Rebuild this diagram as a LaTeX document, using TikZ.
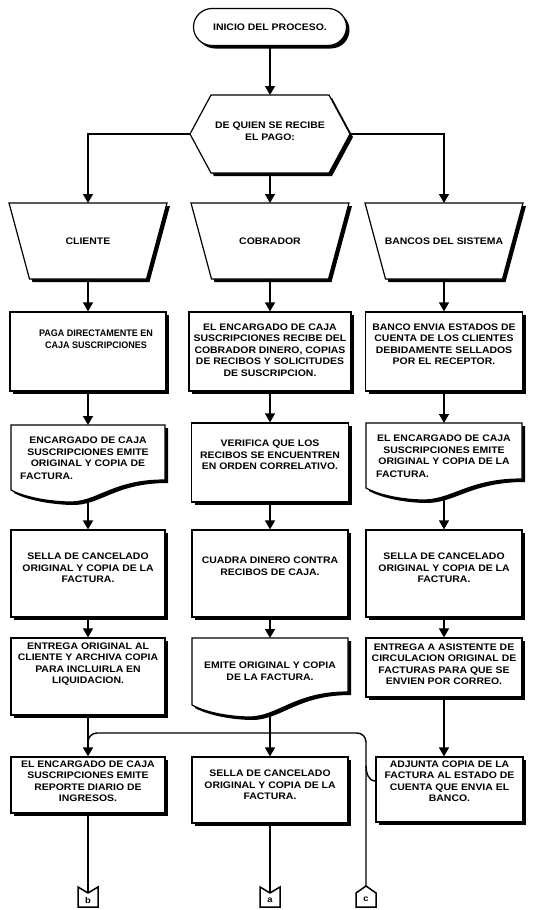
\documentclass[tikz,border=0pt]{standalone}
\usepackage{fontspec}
\setmainfont{Liberation Sans}[FakeStretch=1.1]
\newfontfamily\narrowsans{Liberation Sans Bold}[FakeStretch=0.95]
\usetikzlibrary{shapes.misc,shadows,arrows.meta}
\newcommand\lbl{\fontsize{9.5}{11.5}\selectfont\bfseries}
\newcommand\lblnarrow{\narrowsans\fontsize{9.5}{11.5}\selectfont}
\begin{document}
\begin{tikzpicture}[x=1pt,y=-1pt,
  hardshadow/.style={drop shadow={shadow xshift=3pt,shadow yshift=-3pt,fill=black,opacity=1}},
  shapebox/.style={draw,line width=1.2pt,fill=white,hardshadow},
  proc/.style={shapebox,rectangle,inner sep=0pt},
  txt/.style={align=center,font=\lbl,inner sep=0pt},
  flow/.style={line width=1.4pt,-{Triangle[width=10pt,length=9pt]}},
  link/.style={line width=1.4pt},
  pagelink/.style={draw,line width=1.5pt,fill=white},
  letter/.style={font=\fontsize{8.5}{8.5}\selectfont\bfseries,inner sep=0pt},
]
\useasboundingbox (0,0) rectangle (535,910);

% start terminal
\node[shapebox,rounded rectangle,minimum width=153pt,minimum height=37pt,txt] (start) at (270,27) {INICIO DEL PROCESO.};

% decision hexagon
\path[shapebox] (211,95) -- (329,95) -- (350,134) -- (329,173) -- (211,173) -- (190,134) -- cycle;
\coordinate (hexT) at (270,95);
\coordinate (hexB) at (270,173);
\coordinate (hexL) at (190,134);
\coordinate (hexR) at (350,134);
\node[txt] (hex) at (270,131) {DE QUIEN SE RECIBE\\EL PAGO:};

% manual operations (wide top, narrow bottom)
\foreach \n/\x in {tL/88,tM/270,tR/444}{
  \path[shapebox] (\x-79,203) -- (\x+79,203) -- (\x+58.5,279) -- (\x-58.5,279) -- cycle;
  \coordinate (\n-in) at (\x,203);
  \coordinate (\n-out) at (\x,279);
}
\node[txt] (tLt) at (88,241) {CLIENTE};
\node[txt] (tMt) at (270,241) {COBRADOR};
\node[txt] (tRt) at (444,241) {BANCOS DEL SISTEMA};

\draw[flow] (start.south) -- (hexT);
\draw[flow] (hexL) -| (tL-in);
\draw[flow] (hexR) -| (tR-in);
\draw[flow] (hexB) -- (tM-in);

% row 2
\node[proc,minimum width=156pt,minimum height=79pt] (L2) at (88,351.5) {};
\node[txt,font=\lblnarrow] (L2t) at (96,339) {PAGA DIRECTAMENTE EN\\CAJA SUSCRIPCIONES};
\node[proc,minimum width=162pt,minimum height=79pt] (M2) at (270,351.5) {};
\node[txt] (M2t) at (270,350) {EL ENCARGADO DE CAJA\\SUSCRIPCIONES RECIBE DEL\\COBRADOR DINERO, COPIAS\\DE RECIBOS Y SOLICITUDES\\DE SUSCRIPCION.};
\node[proc,minimum width=157pt,minimum height=79pt] (R2) at (444,351.5) {};
\node[txt] (R2t) at (444,344) {BANCO ENVIA ESTADOS DE\\CUENTA DE LOS CLIENTES\\DEBIDAMENTE SELLADOS\\POR EL RECEPTOR.};

\draw[flow] (tL-out) -- (L2.north);
\draw[flow] (tM-out) -- (M2.north);
\draw[flow] (tR-out) -- (R2.north);

% row 3
\path[shapebox] (11,425) -- (165,425) -- (165,480)
  .. controls (111,480) and (98,503) .. (68,502)
  .. controls (40,501) and (20,495) .. (11,490) -- cycle;
\coordinate (L3in) at (88,425);
\coordinate (L3out) at (88,499);
\node[txt] (L3t) at (88,452) {ENCARGADO DE CAJA\\SUSCRIPCIONES EMITE\\ORIGINAL Y COPIA DE};
\node[txt,anchor=west] (L3u) at (20,476) {FACTURA.};

\node[proc,minimum width=157pt,minimum height=79pt] (M3) at (270,462.5) {};
\node[txt] (M3t) at (270,455) {VERIFICA QUE LOS\\RECIBOS SE ENCUENTREN\\EN ORDEN CORRELATIVO.};

\path[shapebox] (366,423) -- (522,423) -- (522,479)
  .. controls (467,479) and (452,501) .. (421,500)
  .. controls (394,499) and (375,493) .. (366,488) -- cycle;
\coordinate (R3in) at (444,423);
\coordinate (R3out) at (444,496);
\node[txt] (R3t) at (444,450) {EL ENCARGADO DE CAJA\\SUSCRIPCIONES EMITE\\ORIGINAL Y COPIA DE LA};
\node[txt,anchor=west] (R3u) at (376,474) {FACTURA.};

\draw[flow] (L2.south) -- (L3in);
\draw[flow] (M2.south) -- (M3.north);
\draw[flow] (R2.south) -- (R3in);

% row 4
\node[proc,minimum width=154pt,minimum height=87pt] (L4) at (88,573.5) {};
\node[txt] (L4t) at (88,568) {SELLA DE CANCELADO\\ORIGINAL Y COPIA DE LA\\FACTURA.};
\node[proc,minimum width=156pt,minimum height=87pt] (M4) at (270,573.5) {};
\node[txt] (M4t) at (270,566) {CUADRA DINERO CONTRA\\RECIBOS DE CAJA.};
\node[proc,minimum width=156pt,minimum height=87pt] (R4) at (444,573.5) {};
\node[txt] (R4t) at (444,568) {SELLA DE CANCELADO\\ORIGINAL Y COPIA DE LA\\FACTURA.};

\draw[flow] (L3out) -- (L4.north);
\draw[flow] (M3.south) -- (M4.north);
\draw[flow] (R3out) -- (R4.north);

% row 5
\node[proc,minimum width=154pt,minimum height=77pt] (L5) at (88,676.5) {};
\node[txt] (L5t) at (88,664) {ENTREGA ORIGINAL AL\\CLIENTE Y ARCHIVA COPIA\\PARA INCLUIRLA EN\\LIQUIDACION.};
\path[shapebox] (192,638) -- (348,638) -- (348,692)
  .. controls (293,692) and (278,718) .. (247,717)
  .. controls (220,716) and (201,710) .. (192,705) -- cycle;
\coordinate (M5in) at (270,638);
\coordinate (M5out) at (270,713);
\node[txt] (M5t) at (270,671) {EMITE ORIGINAL Y COPIA\\DE LA FACTURA.};
\node[proc,minimum width=156pt,minimum height=59pt] (R5) at (444,667.5) {};
\node[txt] (R5t) at (444,664) {ENTREGA A ASISTENTE DE\\CIRCULACION ORIGINAL DE\\FACTURAS PARA QUE SE\\ENVIEN POR CORREO.};

\draw[flow] (L4.south) -- (L5.north);
\draw[flow] (M4.south) -- (M5in);
\draw[flow] (R4.south) -- (R5.north);

% row 6
\node[proc,minimum width=154pt,minimum height=56pt] (L6) at (88,785) {};
\node[txt] (L6t) at (88,781) {EL ENCARGADO DE CAJA\\SUSCRIPCIONES EMITE\\REPORTE DIARIO DE\\INGRESOS.};
\node[proc,minimum width=156pt,minimum height=66pt] (M6) at (270,790) {};
\node[txt] (M6t) at (270,785) {SELLA DE CANCELADO\\ORIGINAL Y COPIA DE LA\\FACTURA.};
\node[proc,minimum width=147pt,minimum height=65pt] (R6) at (449.5,789.5) {};
\node[txt] (R6t) at (449.5,781) {ADJUNTA COPIA DE LA\\FACTURA AL ESTADO DE\\CUENTA QUE ENVIA EL\\BANCO.};

% off-page connectors
\path[pagelink] (78,887) -- (88,893) -- (98,887) -- (98,907) -- (78,907) -- cycle;
\coordinate (bIn) at (88,893);
\node[letter] (bb) at (88,900) {b};
\path[pagelink] (260,887) -- (270,893) -- (280,887) -- (280,907) -- (260,907) -- cycle;
\coordinate (aIn) at (270,893);
\node[letter] (aa) at (270,900) {a};
\path[pagelink] (356,893) -- (366,886) -- (376,893) -- (376,907) -- (356,907) -- cycle;
\coordinate (cIn) at (366,886);
\node[letter] (cc) at (366,899) {c};

\coordinate (jL) at (88,745);
\coordinate (jR) at (366,733);
\coordinate (hook) at (366,766);
\draw[flow] (L5.south) -- (L6.north);
\draw[flow] (M5out) -- (M6.north);
\draw[flow] (R5.south) -- (R5.south |- R6.north);
\draw[link,rounded corners=9pt] (jL) |- (jR) -- (cIn);
\draw[link] (hook) to[out=-90,in=180] (R6.west |- 0,781);
\draw[link] (L6.south) -- (bIn);
\draw[link] (M6.south) -- (aIn);
\end{tikzpicture}
\end{document}
